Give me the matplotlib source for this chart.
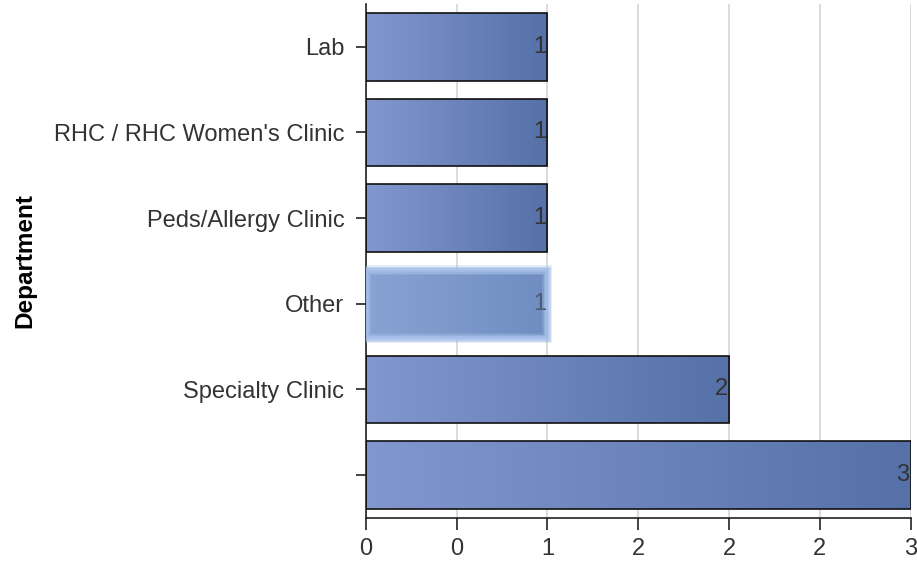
import numpy as np
import matplotlib
matplotlib.use("Agg")
import matplotlib.pyplot as plt
from matplotlib.colors import LinearSegmentedColormap
from matplotlib.patches import Rectangle

plt.rcParams['font.family'] = ['Liberation Sans', 'DejaVu Sans']

# data (top to bottom)
departments = ["Lab", "RHC / RHC Women's Clinic", "Peds/Allergy Clinic",
               "Other", "Specialty Clinic", ""]
counts = [1, 1, 1, 1, 2, 3]
highlighted = "Other"
tick_values = [0, 0.5, 1, 1.5, 2, 2.5, 3]
tick_labels = ["0", "0", "1", "2", "2", "2", "3"]

fig = plt.figure(figsize=(9.17, 5.69), dpi=100)
ax = fig.add_axes([0.399, 0.090, 0.594, 0.903])

normal_cmap = LinearSegmentedColormap.from_list("bar", ["#8397cf", "#5571a8"])
hl_cmap = LinearSegmentedColormap.from_list("hl", ["#88a3d3", "#6f8dc0"])
grad = np.linspace(0, 1, 256).reshape(1, -1)

ypos = np.arange(len(departments))
bar_h = 0.79
bars = ax.barh(ypos, counts, height=bar_h, color="none", edgecolor="#111111",
               linewidth=1.2, zorder=3)

for y, v, name, patch in zip(ypos, counts, departments, bars):
    hl = name == highlighted
    im = ax.imshow(grad, cmap=hl_cmap if hl else normal_cmap, aspect="auto",
                   extent=[0, v, y + bar_h / 2, y - bar_h / 2], zorder=2,
                   interpolation="bicubic")
    im.set_clip_path(patch)
    if hl:
        patch.set_edgecolor("none")
        # soft glow border around the highlighted bar
        for lw, a in [(7, 0.3), (5, 0.5), (3, 0.8)]:
            ax.add_patch(Rectangle((0, y - bar_h / 2), v, bar_h, fill=False,
                                   edgecolor="#a6c0e8", linewidth=lw,
                                   alpha=a, zorder=3))
    ax.text(v - 0.005, y, str(v), ha="right", va="center", fontsize=17,
            color="#4d5a70" if hl else "#333333", zorder=4)

ax.set_xlim(0, 3)
ax.set_ylim(len(departments) - 0.5, -0.5)
ax.set_yticks(ypos)
ax.set_yticklabels(departments, fontsize=17, color="#333333")
ax.set_xticks(tick_values)
ax.set_xticklabels(tick_labels, fontsize=17, color="#333333")
ax.tick_params(axis="y", length=7.5, width=1.2, pad=8, color="#222222")
ax.tick_params(axis="x", length=8.5, width=1.2, pad=6, color="#222222")

ax.xaxis.grid(True, color="#d4d4d4", linewidth=1.2, zorder=0)
ax.set_axisbelow(True)
for s in ("top", "right"):
    ax.spines[s].set_visible(False)
for s in ("left", "bottom"):
    ax.spines[s].set_linewidth(1.2)
    ax.spines[s].set_color("#222222")

ax.set_ylabel("Department", fontsize=17.5, fontweight="bold")
ax.yaxis.set_label_coords(-0.605, 0.5)

fig.savefig("out.png", dpi=100)
